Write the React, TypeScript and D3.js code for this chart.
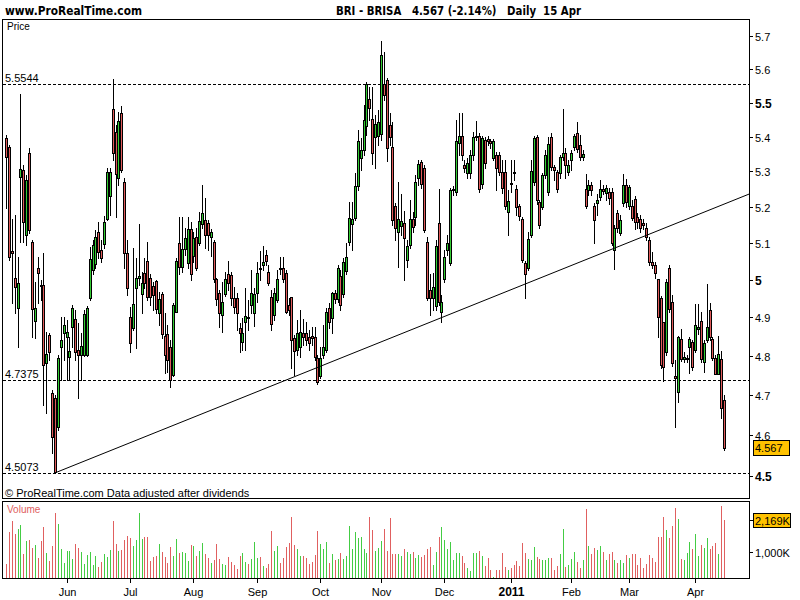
import React from 'react';
import * as d3 from 'd3';

// ---- Data (BRI - BRISA daily, 3 May 2010 .. 15 Apr 2011) ----
const opens = [
  5.396,5.369,5.078,5.005,4.925,5.283,5.304,5.122,5.352,5.102,
  4.890,5.032,4.986,4.986,4.781,4.853,4.705,4.692,4.620,4.822,
  4.859,4.848,4.797,4.875,4.896,4.815,4.802,4.802,4.802,4.951,
  5.026,5.042,5.130,5.080,5.097,5.166,5.230,5.480,5.413,5.281,
  5.468,5.270,5.072,4.901,4.872,4.978,5.005,4.962,5.018,5.051,
  5.005,4.983,4.997,4.911,4.962,4.851,4.856,4.822,4.751,4.914,
  5.099,5.034,5.083,5.045,5.138,5.064,5.116,5.099,5.152,5.163,
  5.155,5.116,5.102,5.002,4.965,4.906,4.962,5.016,5.013,4.951,
  4.951,4.872,4.836,4.888,4.901,4.933,4.911,4.965,5.031,5.040,
  5.067,5.021,4.954,4.906,4.946,5.031,5.031,5.018,4.933,4.954,
  4.846,4.815,4.822,4.859,4.859,4.848,4.851,4.848,4.794,4.748,
  4.802,4.815,4.925,4.898,4.965,4.949,5.010,4.962,5.023,5.102,
  5.152,5.169,5.258,5.338,5.361,5.430,5.510,5.451,5.399,5.402,
  5.408,5.554,5.566,5.434,5.370,5.202,5.130,5.146,5.155,5.053,
  5.094,5.166,5.171,5.281,5.327,5.310,5.102,4.972,4.951,4.930,
  5.155,4.914,5.002,5.080,5.045,5.247,5.241,5.382,5.402,5.318,
  5.295,5.295,5.347,5.399,5.402,5.264,5.390,5.393,5.387,5.338,
  5.347,5.347,5.298,5.298,5.185,5.267,5.298,5.250,5.202,5.166,
  5.045,5.031,5.122,5.269,5.399,5.213,5.199,5.289,5.241,5.399,
  5.312,5.298,5.295,5.341,5.352,5.298,5.333,5.370,5.411,5.376,
  5.341,5.250,5.247,5.261,5.202,5.210,5.227,5.250,5.238,5.241,
  5.241,5.080,5.182,5.127,5.210,5.261,5.202,5.202,5.221,5.171,
  5.166,5.155,5.141,5.108,5.048,5.040,5.002,4.951,4.888,4.809,
  5.031,4.941,4.748,4.708,4.843,4.791,4.793,4.822,4.836,4.815,
  4.869,4.890,4.784,4.841,4.919,4.843,4.794,4.753,4.791,4.687,
];
const highs = [
  5.404,5.375,5.166,5.177,5.061,5.525,5.318,5.289,5.366,5.108,
  4.994,5.061,4.999,5.072,4.861,4.859,4.712,4.700,4.802,4.901,
  4.901,4.893,4.848,4.933,4.919,4.885,4.859,4.919,4.930,5.088,
  5.108,5.135,5.158,5.108,5.174,5.309,5.309,5.569,5.434,5.471,
  5.489,5.281,5.108,4.927,5.086,5.059,5.152,5.021,5.059,5.102,
  5.016,4.994,4.999,4.967,4.967,4.911,4.880,4.841,4.938,5.059,
  5.171,5.171,5.141,5.171,5.158,5.130,5.141,5.185,5.263,5.224,
  5.163,5.138,5.108,5.005,4.972,4.994,5.021,5.051,5.021,4.980,
  4.965,4.885,4.898,4.978,4.946,5.026,4.978,5.048,5.078,5.091,
  5.080,5.040,4.972,4.978,5.026,5.061,5.061,5.026,4.951,4.954,
  4.853,4.893,4.919,4.896,4.888,4.867,4.875,4.875,4.802,4.822,
  4.880,4.925,4.938,4.967,4.972,5.040,5.026,5.059,5.099,5.213,
  5.213,5.295,5.419,5.396,5.492,5.560,5.546,5.546,5.463,5.477,
  5.684,5.650,5.572,5.468,5.442,5.210,5.269,5.235,5.188,5.108,
  5.219,5.185,5.289,5.333,5.333,5.318,5.116,5.016,5.018,5.108,
  5.250,4.959,5.080,5.122,5.252,5.258,5.448,5.468,5.468,5.333,
  5.338,5.362,5.413,5.445,5.411,5.402,5.399,5.402,5.393,5.393,
  5.356,5.356,5.333,5.333,5.247,5.333,5.333,5.263,5.207,5.171,
  5.051,5.130,5.333,5.402,5.405,5.219,5.297,5.362,5.399,5.411,
  5.318,5.304,5.347,5.480,5.367,5.333,5.362,5.408,5.442,5.405,
  5.362,5.292,5.277,5.269,5.210,5.235,5.275,5.263,5.263,5.252,
  5.252,5.149,5.190,5.177,5.292,5.280,5.263,5.219,5.230,5.182,
  5.177,5.166,5.155,5.116,5.075,5.048,5.002,4.957,4.888,5.002,
  5.040,4.959,4.789,4.851,4.869,4.809,4.802,4.848,4.841,4.935,
  4.935,4.914,4.841,4.990,4.938,4.848,4.802,4.851,4.812,4.700,
];
const lows = [
  5.196,5.053,4.938,4.911,4.822,5.102,5.102,5.094,5.127,4.848,
  4.846,4.938,4.946,4.674,4.654,4.789,4.555,4.507,4.612,4.738,
  4.789,4.738,4.738,4.822,4.789,4.692,4.738,4.799,4.799,4.946,
  5.016,5.031,5.059,5.048,5.086,5.163,5.177,5.332,5.171,5.263,
  5.298,5.031,4.959,4.809,4.867,4.820,4.986,4.911,4.978,4.946,
  4.933,4.919,4.911,4.880,4.846,4.756,4.758,4.720,4.748,4.914,
  5.016,5.021,5.067,5.031,4.999,5.048,5.026,5.094,5.141,5.086,
  5.080,5.064,4.994,4.933,4.875,4.861,4.957,4.972,4.933,4.911,
  4.867,4.809,4.815,4.815,4.867,4.911,4.877,4.941,4.999,5.026,
  5.040,4.985,4.867,4.893,4.941,5.016,4.994,4.911,4.906,4.768,
  4.751,4.802,4.797,4.828,4.828,4.815,4.828,4.789,4.727,4.743,
  4.794,4.809,4.872,4.859,4.937,4.941,4.919,4.954,5.016,5.094,
  5.080,5.163,5.247,5.304,5.347,5.405,5.448,5.320,5.309,5.376,
  5.390,5.507,5.330,5.376,5.149,5.108,5.034,5.122,4.999,5.034,
  5.086,5.130,5.149,5.263,5.252,5.130,4.946,4.906,4.919,4.919,
  4.933,4.888,4.994,5.067,5.040,5.233,5.233,5.347,5.332,5.298,
  5.281,5.281,5.333,5.390,5.241,5.252,5.309,5.376,5.367,5.333,
  5.247,5.289,5.238,5.193,5.122,5.241,5.275,5.177,5.163,5.048,
  4.951,5.026,5.116,5.263,5.207,5.141,5.193,5.281,5.233,5.304,
  5.277,5.241,5.281,5.333,5.281,5.289,5.304,5.362,5.356,5.333,
  5.333,5.196,5.233,5.233,5.099,5.177,5.219,5.235,5.219,5.207,
  5.094,5.028,5.130,5.122,5.202,5.199,5.193,5.163,5.138,5.141,
  5.130,5.138,5.108,5.040,5.031,5.005,4.848,4.768,4.735,4.802,
  4.914,4.773,4.620,4.682,4.786,4.784,4.784,4.756,4.763,4.809,
  4.856,4.784,4.758,4.836,4.841,4.789,4.753,4.753,4.642,4.562,
];
const closes = [
  5.341,5.061,5.072,4.980,4.991,5.306,5.158,5.275,5.135,4.922,
  4.925,5.019,4.983,4.776,4.804,4.809,4.595,4.509,4.794,4.841,
  4.880,4.861,4.812,4.925,4.809,4.802,4.825,4.909,4.925,5.056,
  5.094,5.116,5.075,5.059,5.158,5.298,5.298,5.352,5.292,5.445,
  5.304,5.072,4.978,4.833,4.935,5.005,5.010,4.991,4.991,4.954,
  4.954,4.959,4.922,4.949,4.856,4.802,4.789,4.738,4.933,5.051,
  5.034,5.083,5.113,5.138,5.016,5.113,5.031,5.160,5.182,5.122,
  5.122,5.130,5.002,4.949,4.911,4.941,5.002,4.991,4.951,4.927,
  4.911,4.859,4.859,4.904,4.898,4.965,4.962,5.018,5.030,5.048,
  5.051,4.991,4.883,4.965,5.002,5.030,5.002,4.914,4.919,4.841,
  4.812,4.859,4.861,4.848,4.841,4.833,4.846,4.797,4.733,4.794,
  4.822,4.914,4.888,4.965,4.949,5.031,4.933,5.048,5.061,5.169,
  5.166,5.258,5.387,5.362,5.448,5.554,5.483,5.352,5.437,5.442,
  5.641,5.522,5.367,5.399,5.163,5.141,5.166,5.160,5.113,5.091,
  5.166,5.144,5.269,5.321,5.264,5.135,4.951,4.951,4.980,5.091,
  4.941,4.941,5.061,5.099,5.247,5.250,5.387,5.402,5.347,5.309,
  5.324,5.347,5.399,5.402,5.250,5.396,5.324,5.387,5.382,5.387,
  5.309,5.298,5.252,5.202,5.216,5.265,5.295,5.199,5.174,5.053,
  5.016,5.110,5.301,5.396,5.219,5.149,5.289,5.347,5.379,5.312,
  5.304,5.250,5.341,5.352,5.318,5.318,5.352,5.402,5.364,5.341,
  5.350,5.202,5.261,5.247,5.163,5.219,5.250,5.244,5.252,5.224,
  5.099,5.141,5.141,5.163,5.261,5.213,5.255,5.169,5.158,5.158,
  5.141,5.149,5.116,5.048,5.040,5.018,4.901,4.776,4.771,4.994,
  4.922,4.781,4.743,4.848,4.791,4.797,4.794,4.843,4.771,4.880,
  4.875,4.791,4.833,4.875,4.848,4.794,4.753,4.804,4.667,4.567,
];
// volumes in thousands of shares
const volumes = [
  549,1732,2123,1647,1830,1976,915,1403,1427,1122,
  1244,781,1391,1903,964,659,1220,2428,2013,1110,
  586,1025,1013,744,1281,1147,1000,549,878,988,
  512,842,451,634,915,805,1074,2123,1281,1025,
  1074,1427,1574,1488,1208,1427,2428,1464,1537,1537,
  659,817,854,1281,988,817,573,1171,854,1476,
  964,988,952,671,1244,1220,842,1025,1318,927,
  769,573,695,1281,720,549,500,817,634,512,
  366,842,939,634,561,720,1354,781,817,476,
  415,549,1757,1025,1208,598,769,1183,1330,2269,
  1244,1098,842,854,756,549,634,866,1769,1281,
  1098,1354,586,915,708,732,964,732,842,1940,
  1086,1720,1488,1525,1110,964,2269,1781,1037,1135,
  1391,1842,1037,2233,915,915,915,842,1098,976,
  903,988,781,878,805,878,1110,1183,525,988,
  1537,1903,1427,1086,1354,708,952,952,830,598,
  415,305,952,952,1025,854,488,781,329,73,
  329,329,952,451,329,415,512,659,464,1305,
  952,744,708,1171,793,744,708,708,769,781,
  329,488,915,1842,451,500,732,988,634,403,
  695,2562,1208,915,1147,1061,1208,976,683,903,
  976,708,586,683,598,878,781,927,927,525,
  781,415,549,878,769,622,1537,1537,2281,1806,
  1513,1940,2611,2196,732,708,952,1366,1086,1647,
  842,1244,1147,1513,1110,1208,1330,927,2672,2169,
];

const monthLabels = ['Jun', 'Jul', 'Aug', 'Sep', 'Oct', 'Nov', 'Dec', '2011', 'Feb', 'Mar', 'Apr'];
const monthStartIdx = [21, 43, 65, 87, 109, 130, 152, 175, 196, 216, 239];
const priceTicks = [5.7, 5.6, 5.5, 5.4, 5.3, 5.2, 5.1, 5.0, 4.9, 4.8, 4.7, 4.6, 4.5];
const boldPriceTicks = [5.5, 5.0, 4.5];
const refLevels = [5.5544, 4.7375, 4.5073];
const trendStart = { idx: 17, price: 4.5073 };
const trendEnd = { idx: 257.7, price: 5.236 };
const volumeTicks = [1000];
const lastPrice = 4.567;
const lastVolume = 2169;

const SANS = 'Liberation Sans, Arial, Helvetica, sans-serif';
const NARROW = 'Liberation Sans Narrow, DejaVu Sans Condensed, Arial Narrow, sans-serif';
const GREEN = '#33cc33';
const RED = '#e05a5a';
const VGREEN = '#44cc44';
const VRED = '#e06060';

export default function App() {
  const W = 800, H = 600;
  const left = 3, right = 749;
  const pTop = 20, pBot = 499;
  const vTop = 502, vBot = 579;

  const x = d3.scaleLinear().domain([0, opens.length - 1]).range([6, 724]);
  const y = d3.scaleLog().domain([4.5, 5.7]).range([475.9, 36.1]);
  const yv = d3.scaleLinear().domain([0, 1000]).range([vBot, 551.7]);

  const px = (i: number) => Math.round(x(i));
  const py = (v: number) => Math.round(y(v));

  const candles = opens.map((o, i) => {
    const c = closes[i];
    const up = c >= o;
    const cx = px(i);
    const top = py(Math.max(o, c));
    const bot = py(Math.min(o, c));
    return (
      <g key={i}>
        <line x1={cx + 0.5} x2={cx + 0.5} y1={py(highs[i])} y2={py(lows[i]) + 1} stroke="#000" strokeWidth={1} />
        <rect x={cx - 0.5} y={top + 0.5} width={2} height={Math.max(1, bot - top)} fill={up ? GREEN : RED} stroke="#000" strokeWidth={1} />
      </g>
    );
  });

  const volBars = volumes.map((v, i) => {
    const up = closes[i] >= opens[i];
    const cx = px(i);
    return (
      <line key={i} x1={cx + 0.5} x2={cx + 0.5} y1={vBot - 1} y2={Math.round(yv(v))} stroke={up ? VGREEN : VRED} strokeWidth={1} />
    );
  });

  const trendLine = (
    <line
      x1={x(trendStart.idx)} y1={y(trendStart.price)}
      x2={x(trendEnd.idx)} y2={y(trendEnd.price)}
      stroke="#000" strokeWidth={1}
    />
  );

  return (
    <svg width={W} height={H} viewBox={`0 0 ${W} ${H}`} style={{ position: 'absolute', left: 0, top: 0, background: '#fff' }}>
      <rect x={0} y={0} width={W} height={H} fill="#fff" />
      {/* header */}
      <text x={5} y={15} fontFamily={NARROW} fontWeight="bold" fontSize={13} textLength={137} lengthAdjust="spacingAndGlyphs">www.ProRealTime.com</text>
      <text x={336} y={15} fontFamily={NARROW} fontWeight="bold" fontSize={13} textLength={245} lengthAdjust="spacingAndGlyphs" xmlSpace="preserve">BRI - BRISA   4.567 (-2.14%)   Daily  15 Apr</text>

      {/* price panel */}
      <rect x={left - 0.5} y={pTop - 0.5} width={right - left + 1} height={pBot - pTop} fill="#fff" stroke="#000" strokeWidth={1} />
      <text x={7} y={30} fontFamily={SANS} fontSize={10}>Price</text>

      {refLevels.map((lv) => {
        const ly = py(lv) + 0.5;
        return (
          <g key={lv}>
            <line x1={left} x2={right} y1={ly} y2={ly} stroke="#000" strokeWidth={1} strokeDasharray="3,2" />
            <text x={5} y={ly - 3} fontFamily={SANS} fontSize={11}>{lv.toFixed(4)}</text>
          </g>
        );
      })}

      <g>{candles}</g>
      {trendLine}

      <text x={5} y={497} fontFamily={SANS} fontSize={11}>© ProRealTime.com  Data adjusted after dividends</text>

      {/* price axis */}
      {priceTicks.map((t) => {
        const ty = py(t) + 0.5;
        const bold = boldPriceTicks.includes(t);
        return (
          <g key={t}>
            <line x1={right} x2={right + 4} y1={ty} y2={ty} stroke="#000" />
            <text x={755} y={ty + 4} fontFamily={SANS} fontSize={bold ? 12 : 11} fontWeight={bold ? 'bold' : 'normal'}>
              {t === 5 ? '5' : String(t)}
            </text>
          </g>
        );
      })}
      <g>
        <rect x={753.5} y={Math.round(y(lastPrice)) - 7.5} width={36} height={15} fill="#ffc200" stroke="#000" />
        <text x={755} y={Math.round(y(lastPrice)) + 4} fontFamily={SANS} fontSize={11}>{lastPrice.toFixed(3)}</text>
      </g>

      {/* volume panel */}
      <rect x={left - 0.5} y={vTop - 0.5} width={right - left + 1} height={vBot - vTop} fill="#fff" stroke="#000" strokeWidth={1} />
      <text x={7} y={513} fontFamily={SANS} fontSize={10} fill={VRED}>Volume</text>
      <g>{volBars}</g>
      {volumeTicks.map((t) => {
        const ty = Math.round(yv(t)) + 0.5;
        return (
          <g key={t}>
            <line x1={right} x2={right + 4} y1={ty} y2={ty} stroke="#000" />
            <text x={755} y={ty + 4} fontFamily={SANS} fontSize={11}>{d3.format(',')(t)}K</text>
          </g>
        );
      })}
      <g>
        <line x1={right} x2={right + 4} y1={Math.round(yv(lastVolume)) + 0.5} y2={Math.round(yv(lastVolume)) + 0.5} stroke="#000" />
        <rect x={753.5} y={Math.round(yv(lastVolume)) - 6.5} width={37} height={14} fill="#ffc200" stroke="#000" />
        <text x={755} y={Math.round(yv(lastVolume)) + 4.5} fontFamily={SANS} fontSize={11}>{d3.format(',')(lastVolume)}K</text>
      </g>

      {/* time axis */}
      {monthLabels.map((m, k) => {
        const mx = px(monthStartIdx[k]) + 0.5;
        return (
          <g key={m}>
            <line x1={mx} x2={mx} y1={vBot} y2={vBot + 4} stroke="#000" />
            <text x={mx} y={596} textAnchor="middle" fontFamily={SANS} fontSize={m === '2011' ? 12 : 11} fontWeight={m === '2011' ? 'bold' : 'normal'}>{m}</text>
          </g>
        );
      })}
    </svg>
  );
}
